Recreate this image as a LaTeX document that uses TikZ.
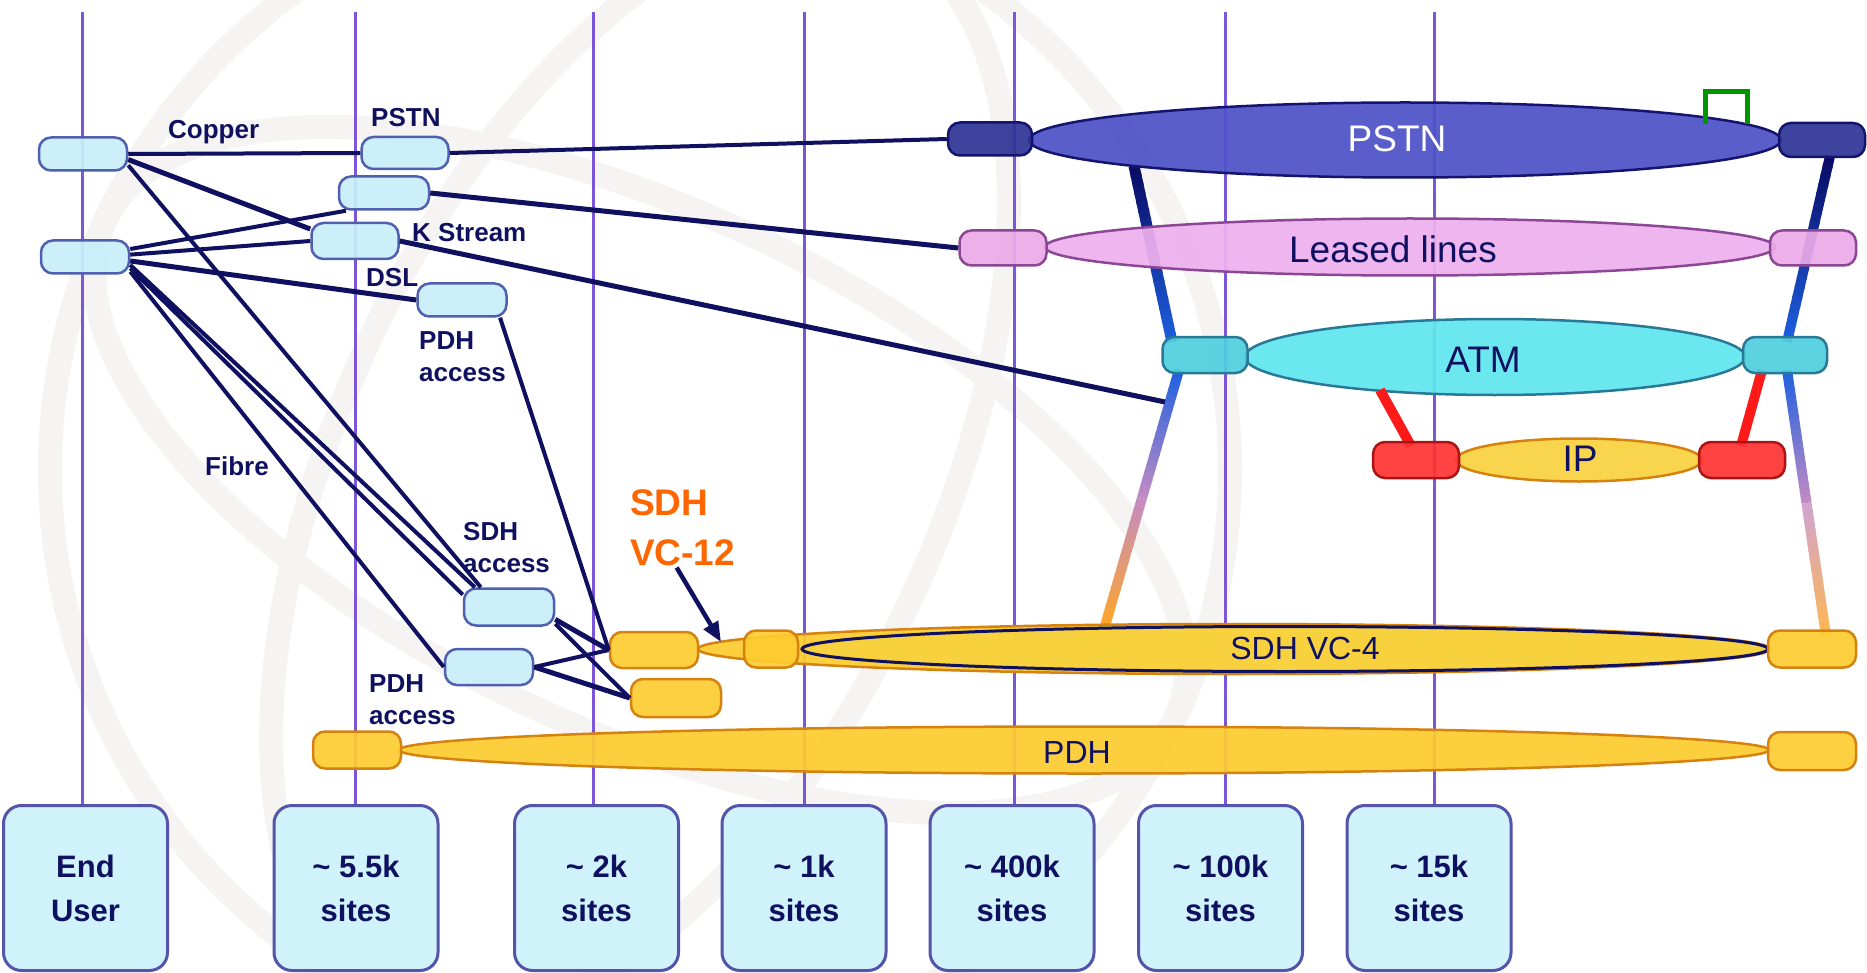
\documentclass[tikz,border=0pt]{standalone}
\usepackage{fontspec}
\setmainfont{Liberation Sans}
\usetikzlibrary{arrows.meta,calc,shapes.geometric}
\definecolor{navy}{RGB}{16,16,96}
\definecolor{vline}{RGB}{125,85,215}
\definecolor{capf}{RGB}{200,238,250}
\definecolor{capd}{RGB}{80,96,176}
\definecolor{boxf}{RGB}{208,242,251}
\definecolor{boxd}{RGB}{84,84,170}
\definecolor{orf}{RGB}{252,204,48}
\definecolor{ord}{RGB}{214,130,16}
\definecolor{pstnf}{RGB}{78,82,198}
\definecolor{pstnn}{RGB}{46,52,150}
\definecolor{pstnd}{RGB}{20,20,110}
\definecolor{llf}{RGB}{238,176,238}
\definecolor{lln}{RGB}{236,170,232}
\definecolor{lld}{RGB}{140,70,150}
\definecolor{atmf}{RGB}{96,230,238}
\definecolor{atmn}{RGB}{80,208,224}
\definecolor{atmd}{RGB}{40,120,150}
\definecolor{ipf}{RGB}{248,210,64}
\definecolor{redf}{RGB}{255,50,50}
\definecolor{redd}{RGB}{170,20,20}
\definecolor{redl}{RGB}{255,26,26}
\definecolor{gblue}{RGB}{30,96,224}
\definecolor{gnavy}{RGB}{10,10,100}
\definecolor{gpink}{RGB}{196,140,196}
\definecolor{gorange}{RGB}{255,166,40}
\definecolor{wmark}{RGB}{245,244,243}
\definecolor{sdhor}{RGB}{255,102,0}
\definecolor{grn}{RGB}{0,150,0}
\newcommand\mygrad[5]{%
  \foreach \ii in {0,...,19}{%
    \pgfmathsetmacro\pa{\ii/20}%
    \pgfmathsetmacro\pb{min((\ii+1.25)/20,1)}%
    \pgfmathtruncatemacro\mx{98-\ii*5}%
    \draw[line width=#5, color=#3!\mx!#4] ($(#1)!\pa!(#2)$) -- ($(#1)!\pb!(#2)$);
  }}
\begin{document}
\begin{tikzpicture}[x=1pt,y=-1pt,
  wm/.style={draw=wmark, line width=24pt},
  vl/.style={draw=vline, line width=3pt},
  cn/.style={draw=navy, line width=4pt},
  capsule/.style={rectangle, rounded corners=12pt, line width=2.5pt, inner sep=0pt, fill opacity=0.92},
  lbcap/.style={capsule, draw=capd, fill=capf, minimum width=88pt, minimum height=33pt},
  orcap/.style={capsule, draw=ord, fill=orf, minimum width=88pt, minimum height=36pt},
  ell/.style={ellipse, inner sep=0pt, line width=2.5pt, fill opacity=0.93},
  ubox/.style={rectangle, rounded corners=18pt, draw=boxd, fill=boxf, line width=3pt,
    minimum width=164pt, minimum height=165pt, align=center, inner sep=0pt,
    font=\fontsize{31}{44}\selectfont\bfseries, text=navy},
  lbl/.style={font=\fontsize{26}{32}\selectfont\bfseries, text=navy, align=left, inner sep=0pt, anchor=north west},
  big/.style={font=\fontsize{37}{44}\selectfont, inner sep=0pt},
  mid/.style={font=\fontsize{32}{38}\selectfont, inner sep=0pt, text=navy}
]
\useasboundingbox (0,0) rectangle (1867,973);
\fill[white] (0,0) rectangle (1867,973);

% watermark globe
\begin{scope}
\clip (0,0) rectangle (1867,973);
\draw[wm] (640,470) circle (590);
\draw[wm, rotate around={-25:(640,470)}] (640,470) ellipse (300 and 590);
\draw[wm, rotate around={-25:(640,470)}] (640,470) ellipse (590 and 260);
\end{scope}

% bottom boxes
\node[ubox] (b1) at (85.5,888) {\raisebox{-4pt}{End}\\\raisebox{-4pt}{User}};
\node[ubox] (b2) at (356,888) {\textasciitilde{} 5.5k\\sites};
\node[ubox] (b3) at (596.5,888) {\textasciitilde{} 2k\\sites};
\node[ubox] (b4) at (804,888) {\textasciitilde{} 1k\\sites};
\node[ubox] (b5) at (1012,888) {\textasciitilde{} 400k\\sites};
\node[ubox] (b6) at (1220.5,888) {\textasciitilde{} 100k\\sites};
\node[ubox] (b7) at (1429,888) {\textasciitilde{} 15k\\sites};

% vertical lines
\coordinate (t1) at (82,12);
\coordinate (t2) at (355,12);
\coordinate (t3) at (593,12);
\coordinate (t4) at (804,12);
\coordinate (t5) at (1014,12);
\coordinate (t6) at (1225,12);
\coordinate (t7) at (1434,12);
\draw[vl] (t1) -- (t1 |- b1.north);
\draw[vl] (t2) -- (t2 |- b2.north);
\draw[vl] (t3) -- (t3 |- b3.north);
\draw[vl] (t4) -- (t4 |- b4.north);
\draw[vl] (t5) -- (t5 |- b5.north);
\draw[vl] (t6) -- (t6 |- b6.north);
\draw[vl] (t7) -- (t7 |- b7.north);

% gradient trunk connectors
\coordinate (gA1) at (1134,166);
\coordinate (gA2) at (1172,342);
\coordinate (gB1) at (1179,370);
\coordinate (gB2) at (1105,626);
\coordinate (gBm) at ($(gB1)!0.5!(gB2)$);
\coordinate (gC1) at (1830,156);
\coordinate (gC2) at (1787,342);
\coordinate (gD1) at (1787,370);
\coordinate (gD2) at (1826,636);
\coordinate (gDm) at ($(gD1)!0.5!(gD2)$);
\mygrad{gA1}{gA2}{gnavy}{gblue}{11pt}
\mygrad{gB1}{gBm}{gblue}{gpink}{10pt}
\mygrad{gBm}{gB2}{gpink}{gorange}{10pt}
\mygrad{gC1}{gC2}{gnavy}{gblue}{10pt}
\mygrad{gD1}{gDm}{gblue}{gpink}{10pt}
\mygrad{gDm}{gD2}{gpink}{gorange!80!white}{10pt}
\coordinate (kEnd) at (1165,402);

% red connectors
\coordinate (r1) at (1380,390);
\coordinate (r2) at (1762,370);

% big ellipses
\node[ell, fill=pstnf, draw=pstnd, minimum width=752pt, minimum height=75pt] (pstnE) at (1405,140) {};
\node[ell, fill=llf, draw=lld, minimum width=730pt, minimum height=57pt] (llE) at (1410,247) {};
\node[ell, fill=atmf, draw=atmd, minimum width=500pt, minimum height=76pt] (atmE) at (1495,357) {};
\node[ell, fill=ipf, draw=ord, minimum width=246pt, minimum height=43pt] (ipE) at (1579,460) {};
\node[ell, fill=orf, draw=ord, minimum width=1072pt, minimum height=50pt] (vc4O) at (1234,649) {};
\node[ell, fill=ipf, draw=navy, line width=3pt, minimum width=966pt, minimum height=45pt] (vc4E) at (1285,649) {};
\node[ell, fill=orf, draw=ord, minimum width=1370pt, minimum height=47pt] (pdhE) at (1084,750) {};

\draw[draw=redl, line width=10pt] (r1) -- (1411,446);
\draw[draw=redl, line width=10pt] (r2) -- (1741,446);

% end capsules of the big ellipses
\node[capsule, fill=pstnn, draw=pstnd, minimum width=84pt, minimum height=33pt] (pstnL) at (990,139) {};
\node[capsule, fill=pstnn, draw=pstnd, minimum width=86pt, minimum height=34pt] (pstnR) at (1822,140) {};
\node[capsule, fill=lln, draw=lld, minimum width=87pt, minimum height=35pt] (llL) at (1003,248) {};
\node[capsule, fill=lln, draw=lld, minimum width=86pt, minimum height=35pt] (llR) at (1813,248) {};
\node[capsule, fill=atmn, draw=atmd, minimum width=85pt, minimum height=36pt] (atmL) at (1205,355) {};
\node[capsule, fill=atmn, draw=atmd, minimum width=84pt, minimum height=36pt] (atmR) at (1785,355) {};
\node[capsule, fill=redf, draw=redd, minimum width=86pt, minimum height=36pt] (ipL) at (1416,460) {};
\node[capsule, fill=redf, draw=redd, minimum width=86pt, minimum height=36pt] (ipR) at (1742,460) {};
\node[orcap] (vc12a) at (654,650) {};
\node[orcap, minimum width=90pt, minimum height=38pt] (vc12b) at (676,698) {};
\node[orcap, minimum width=54pt, minimum height=37pt] (vc4L) at (771,649) {};
\node[orcap, minimum height=37pt] (vc4R) at (1812,649) {};
\node[orcap, minimum height=37pt] (pdhL) at (357,750) {};
\node[orcap, minimum height=38pt] (pdhR) at (1812,751) {};

% texts in ellipses
\node[big, text=white] (pstnT) at (1397,139) {PSTN};
\node[big, text=navy] (llT) at (1393,249) {Leased lines};
\node[big, text=navy] (atmT) at (1483,360) {ATM};
\node[big, text=navy] (ipT) at (1580,459) {IP};
\node[mid] (vc4T) at (1305,648) {SDH VC-4};
\node[mid] (pdhT) at (1077,752) {PDH};

% green bracket
\draw[grn, line width=5pt] (1705,124) -- (1705,92) -- (1747,92) -- (1747,124);

% left access capsules
\node[lbcap] (EU1) at (83,154) {};
\node[lbcap] (EU2) at (85,257) {};
\node[lbcap, minimum width=87pt, minimum height=32pt] (pstnA) at (405,153) {};
\node[lbcap, minimum width=90pt] (llA) at (384,193) {};
\node[lbcap, minimum width=87pt, minimum height=36pt] (ksA) at (355,241) {};
\node[lbcap, minimum width=89pt] (dslA) at (462,300) {};
\node[lbcap, minimum width=90pt, minimum height=37pt] (sdhA) at (509,607) {};
\node[lbcap, minimum height=36pt] (pdhA) at (489,667) {};

% connectors
\draw[cn] (EU1.east) -- (pstnA.west);
\draw[cn] (pstnA.east) -- (pstnL.west);
\draw[cn, line width=5pt] (EU1.-7) -- (ksA.165);
\draw[cn] (EU1.-14) -- (sdhA.145);
\draw[cn] (EU2.10) -- (llA.205);
\draw[cn] (EU2.3) -- (ksA.west);
\draw[cn, line width=5pt] (EU2.-5) -- (dslA.west);
\draw[cn] (EU2.-10) -- (sdhA.150);
\draw[cn] (EU2.-14) -- (sdhA.165);
\draw[cn] (EU2.-18) -- (pdhA.west);
\draw[cn, line width=5pt] (llA.east) -- (llL.west);
\draw[cn, line width=5pt] (ksA.east) -- (kEnd);
\draw[cn] (dslA.-25) -- (vc12a.west);
\draw[cn, line width=5pt] (sdhA.-15) -- (vc12a.west);
\draw[cn] (sdhA.-20) -- (vc12b.west);
\draw[cn] (pdhA.east) -- (vc12a.west);
\draw[cn, line width=5pt] (pdhA.east) -- (vc12b.west);

% labels
\node[lbl] (lCopper) at (168,120) {Copper};
\node[lbl] (lPstn) at (371,108) {PSTN};
\node[lbl] (lKs) at (412,223) {K Stream};
\node[lbl] (lDsl) at (366,268) {DSL};
\node[lbl] (lPdh1) at (419,331) {PDH\\access};
\node[lbl] (lFibre) at (205,456) {Fibre};
\node[lbl] (lSdh) at (463,522) {SDH\\access};
\node[lbl] (lPdh2) at (369,674) {PDH\\access};
\node[lbl, text=sdhor, font=\fontsize{37}{50}\selectfont\bfseries] (vc12T) at (630,489) {SDH\\VC-12};

% arrow
\coordinate (arrEnd) at (721,642);
\draw[navy, line width=4.5pt, -{Triangle[length=20pt,width=16pt]}] ($(vc12T.south)+(-6,2)$) -- (arrEnd);
\end{tikzpicture}
\end{document}
